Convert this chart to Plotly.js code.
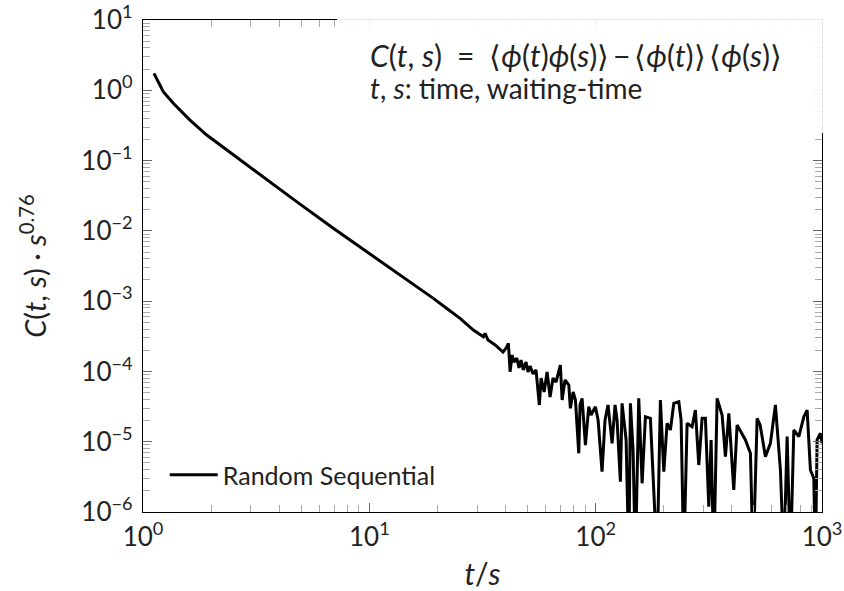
<!DOCTYPE html>
<html>
<head>
<meta charset="utf-8">
<script src="https://cdn.plot.ly/plotly-3.0.1.min.js"></script>
<style>html,body{margin:0;padding:0;background:#fff;}#chart{width:844px;height:591px;}</style>
</head>
<body>
<div id="chart"></div>
<script>
// time ratio t/s
const tValues = [
  1.118, 1.229, 1.361, 1.613, 1.912, 2.264, 2.683, 3.18, 3.765, 4.94, 6.93, 9.74, 13.67, 17.1, 19.18, 22.0, 25.17,
  28.82, 31.9, 32.45, 33.45, 35.95, 37.8, 38.98, 40.2, 41.16, 41.87, 42.72, 43.6, 44.82, 45.86, 46.8, 47.9, 49.25,
  50.26, 51.3, 52.9, 54.5, 56.4, 57.4, 59.2, 61.0, 62.9, 64.8, 66.8, 69.8, 71.1, 73.2, 76.1, 77.3, 79.5, 81.4,
  84.2, 85.3, 87.1, 90.1, 93.2, 95.4, 99.7, 102.5, 106.7, 110.0, 113.4, 118.2, 121.8, 124.3, 128.6, 130.8, 136.3,
  140.1, 142.4, 146.3, 149.8, 155.0, 160.4, 165.9, 174.5, 186.8, 193.2, 200.0, 206.8, 213.9, 221.4, 233.0, 238.5,
  245.1, 253.5, 266.7, 275.8, 285.5, 295.3, 305.4, 316.1, 323.6, 332.6, 344.0, 361.9, 374.4, 387.5, 407.6, 421.6,
  443.6, 458.8, 482.8, 496.2, 516.8, 532.8, 543.8, 562.3, 591.6, 622.5, 655.0, 678.0, 701.3, 725.3, 750.7, 790.0,
  831.3, 859.6, 888.9, 920.1, 935.2, 951.4, 984.0, 1001
];
// C(t,s) * s^0.76
const cValues = [
  1.74, 0.953, 0.652, 0.377, 0.231, 0.154, 0.104, 0.0693, 0.0468, 0.024, 0.01087, 0.00505, 0.00235, 0.00144, 0.001096, 7.85e-4, 5.69e-4,
  3.88e-4, 3.12e-4, 3.48e-4, 2.80e-4, 2.38e-4, 2.02e-4, 1.89e-4, 2.15e-4, 2.51e-4, 9.9e-5, 1.71e-4, 1.36e-4, 1.55e-4, 1.12e-4, 1.45e-4, 1.05e-4, 1.36e-4,
  9.8e-5, 1.19e-4, 9.2e-5, 1.05e-4, 3.33e-5, 8.05e-5, 5.09e-5, 9.8e-5, 4.33e-5, 8.05e-5, 7.06e-5, 1.23e-4, 3.92e-5, 7.55e-5, 6.41e-5, 2.99e-5, 5.09e-5, 3.92e-5,
  6.84e-6, 3.33e-5, 4.14e-5, 8.97e-6, 3.15e-5, 2.40e-5, 3.15e-5, 2.04e-5, 3.74e-6, 2.04e-5, 3.33e-5, 9.48e-6, 3.33e-5, 2.04e-5, 2.70e-6, 3.52e-5, 1.06e-5,
  2e-7, 3.52e-5, 7.62e-6, 2e-7, 4.14e-5, 2.56e-6, 2.27e-5, 2.15e-5, 2e-7, 3.92e-5, 3.74e-6, 1.83e-5, 1.47e-5, 3.52e-5, 3.71e-5, 2.04e-5,
  2e-7, 1.83e-5, 1.63e-5, 2.82e-5, 4.66e-6, 2.15e-5, 2.15e-5, 1.19e-6, 1.06e-5, 2e-7, 4.14e-5, 2.40e-5, 6.12e-6, 2.54e-5, 2.06e-6, 1.73e-5,
  1.32e-5, 1.06e-5, 6.84e-6, 2e-7, 2.15e-5, 1.73e-5, 1.18e-5, 6.12e-6, 9.48e-6, 3.33e-5, 3.96e-6, 2e-7, 1.18e-5, 2e-7, 1.47e-5, 1.18e-5,
  2.27e-5, 2.82e-5, 3.96e-6, 3.01e-6, 2e-7, 1.06e-5, 1.32e-5, 9.48e-6
];
const seriesName = "Random Sequential";
const xTickVals = [1, 10, 100, 1000];
const xTickText = ["10<sup>0</sup>", "10<sup>1</sup>", "10<sup>2</sup>", "10<sup>3</sup>"];
const yTickVals = [1e-6, 1e-5, 1e-4, 1e-3, 1e-2, 1e-1, 1, 10];
const yTickText = ["10<sup>−6</sup>", "10<sup>−5</sup>", "10<sup>−4</sup>", "10<sup>−3</sup>", "10<sup>−2</sup>", "10<sup>−1</sup>", "10<sup>0</sup>", "10<sup>1</sup>"];

function minorLog(lo, hi) {
  const out = [];
  for (let e = lo; e < hi; e++) for (let k = 2; k <= 9; k++) out.push(k * Math.pow(10, e));
  return out;
}

const FONT = "Lato, 'Open Sans', sans-serif";
const TXT = "#222";
const trace = {
  x: tValues, y: cValues, type: "scatter", mode: "lines", name: seriesName,
  line: {color: "#000", width: 3}, cliponaxis: true
};
const layout = {
  width: 844, height: 591,
  margin: {l: 143, r: 22, t: 20, b: 79},
  paper_bgcolor: "#fff", plot_bgcolor: "#fff",
  font: {family: FONT, color: TXT},
  showlegend: true,
  legend: {x: 0.032, y: 0.075, xanchor: "left", yanchor: "middle", bgcolor: "rgba(255,255,255,0)",
           borderwidth: 0, itemwidth: 48, font: {family: FONT, size: 25, color: TXT}},
  xaxis: {
    type: "log", range: [0, 3], showgrid: false, zeroline: false, showline: true, linecolor: "#000", linewidth: 1.2,
    mirror: "ticks", ticks: "inside", ticklen: 9, tickcolor: "#666", tickwidth: 1,
    tickmode: "array", tickvals: xTickVals, ticktext: xTickText, ticklabelstandoff: 2,
    tickfont: {family: FONT, size: 26, color: TXT},
    minor: {tickmode: "array", tickvals: minorLog(0, 3), ticks: "inside", ticklen: 7, tickcolor: "#aaa", showgrid: false},
    title: {text: "<i>t</i>/<i>s</i>", font: {family: FONT, size: 30, color: TXT}, standoff: 12}
  },
  yaxis: {
    type: "log", range: [-6, 1], showgrid: false, zeroline: false, showline: true, linecolor: "#000", linewidth: 1.2,
    mirror: "ticks", ticks: "inside", ticklen: 9, tickcolor: "#666", tickwidth: 1,
    tickmode: "array", tickvals: yTickVals, ticktext: yTickText, ticklabelstandoff: 4,
    tickfont: {family: FONT, size: 26, color: TXT},
    minor: {tickmode: "array", tickvals: minorLog(-6, 1), ticks: "inside", ticklen: 7, tickcolor: "#aaa", showgrid: false},
    title: {text: "<i>C</i>(<i>t</i>, <i>s</i>) · <i>s</i><sup>0.76</sup>", font: {family: FONT, size: 29, color: TXT}, standoff: 26}
  },
  shapes: [{
    type: "rect", xref: "paper", yref: "paper", x0: 0.2857, x1: 1.02, y0: 0.7703, y1: 1.03,
    fillcolor: "rgba(255,255,255,0.9)", line: {width: 0}, layer: "above"
  }],
  annotations: [
    {xref: "paper", yref: "paper", x: 0.331, y: 0.929, xanchor: "left", yanchor: "middle", showarrow: false,
     text: "<i>C</i>(<i>t</i>, <i>s</i>)\u2002=\u2002⟨<i>ϕ</i>(<i>t</i>)<i>ϕ</i>(<i>s</i>)⟩\u2009−\u2009⟨<i>ϕ</i>(<i>t</i>)⟩\u2009⟨<i>ϕ</i>(<i>s</i>)⟩",
     font: {family: FONT, size: 30, color: TXT}},
    {xref: "paper", yref: "paper", x: 0.331, y: 0.862, xanchor: "left", yanchor: "middle", showarrow: false,
     text: "<i>t</i>, <i>s</i>: time, waiting-time",
     font: {family: FONT, size: 28, color: TXT}}
  ]
};
Plotly.newPlot("chart", [trace], layout, {staticPlot: true, displayModeBar: false});
</script>
</body>
</html>
